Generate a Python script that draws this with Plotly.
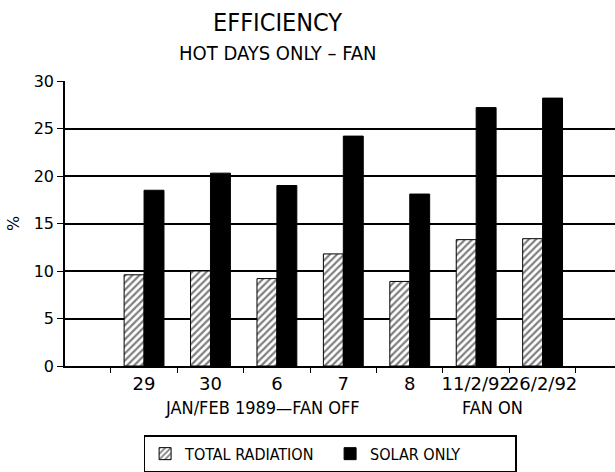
import plotly.graph_objects as go

# data
days = ["29", "30", "6", "7", "8", "11/2/92", "26/2/92"]
total_radiation = [9.6, 10.0, 9.2, 11.8, 8.9, 13.3, 13.4]
solar_only = [18.5, 20.3, 19.0, 24.2, 18.1, 27.2, 28.2]

narrow = "DejaVu Sans Condensed, Liberation Sans Narrow, Liberation Sans, sans-serif"
wide = "DejaVu Sans, Liberation Sans, sans-serif"

fig = go.Figure()

fig.add_trace(go.Bar(
	x=days,
	y=total_radiation,
	name="TOTAL RADIATION",
	marker=dict(
		color="white",
		line=dict(color="black", width=1),
		pattern=dict(shape="/", fgcolor="black", bgcolor="white", size=5, solidity=0.45),
	),
))

fig.add_trace(go.Bar(
	x=days,
	y=solar_only,
	name="SOLAR ONLY",
	marker=dict(color="black", line=dict(color="black", width=1)),
))

# titles
fig.add_annotation(x=0.387, y=1.207, xref="paper", yref="paper", text="EFFICIENCY",
	xanchor="center", yanchor="middle",
	showarrow=False, font=dict(family=narrow, size=25, color="black"))
fig.add_annotation(x=0.387, y=1.098, xref="paper", yref="paper", text="HOT DAYS ONLY \u2013 FAN",
	xanchor="center", yanchor="middle",
	showarrow=False, font=dict(family=narrow, size=20, color="black"))

# group captions under the day labels
fig.add_annotation(x=1.78, y=-0.147, xref="x", yref="paper", text="JAN/FEB 1989\u2014FAN OFF",
	xanchor="center", yanchor="middle",
	showarrow=False, font=dict(family=narrow, size=18, color="black"))
fig.add_annotation(x=5.24, y=-0.147, xref="x", yref="paper", text="FAN ON",
	xanchor="center", yanchor="middle",
	showarrow=False, font=dict(family=narrow, size=18, color="black"))

fig.update_layout(
	width=615,
	height=472,
	margin=dict(l=65, r=0, t=81, b=106, autoexpand=False),
	paper_bgcolor="white",
	plot_bgcolor="white",
	barmode="group",
	bargap=0.4,
	bargroupgap=0,
	legend=dict(
		orientation="h",
		x=0.482, xanchor="center",
		y=-0.243, yanchor="top",
		bordercolor="black",
		borderwidth=1.5,
		entrywidth=140,
		font=dict(family=narrow, size=16, color="black"),
		traceorder="normal",
	),
	showlegend=True,
)

fig.update_xaxes(
	type="category",
	range=[-1.19, 7.09],
	tickson="boundaries",
	ticks="outside",
	ticklen=5,
	tickcolor="black",
	tickangle=0,
	showline=True,
	linecolor="black",
	linewidth=2,
	showgrid=False,
	tickfont=dict(family=wide, size=18, color="black"),
)

fig.update_yaxes(
	range=[0, 30],
	dtick=5,
	ticks="outside",
	ticklen=6,
	tickcolor="black",
	showline=True,
	linecolor="black",
	linewidth=1.5,
	showgrid=True,
	gridcolor="black",
	gridwidth=1.5,
	zeroline=False,
	title=dict(text="%", font=dict(family=wide, size=16, color="black"), standoff=10),
	tickfont=dict(family=wide, size=16, color="black"),
)

# drop the page's default body margin so the figure sits at the window corner
fig.write_html("out.html", config={"displayModeBar": False},
	post_script="document.body.style.margin='0';")
